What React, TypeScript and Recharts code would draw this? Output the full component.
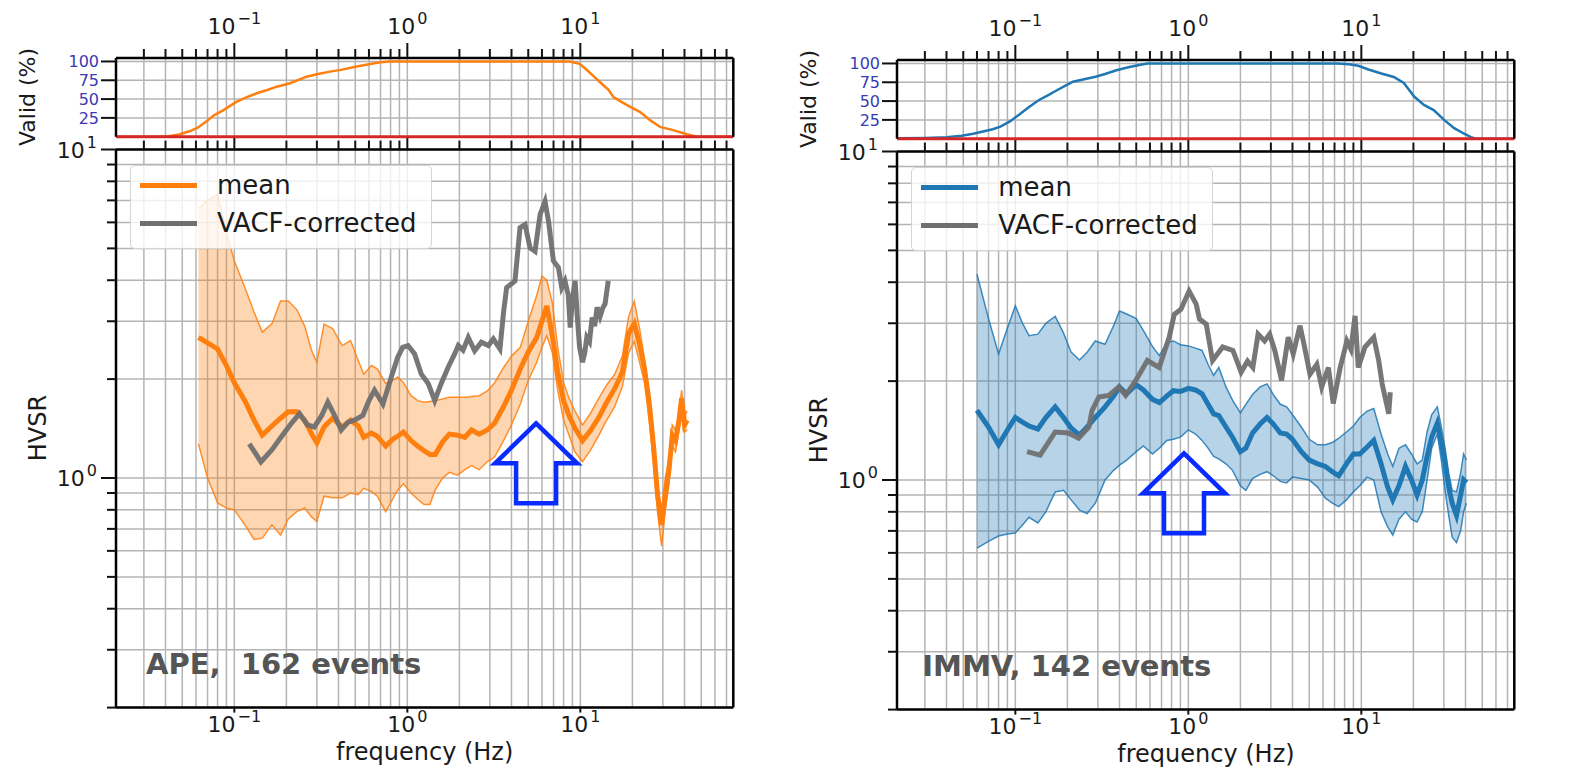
import React from 'react';
import {
  ComposedChart,
  Line,
  Area,
  XAxis,
  YAxis,
  CartesianGrid,
  ReferenceLine,
  ReferenceDot,
  Legend,
} from 'recharts';

const FONT = '"DejaVu Sans", Verdana, sans-serif';

// shared axes
const F_MIN = 0.0207;
const F_MAX = 76.6;
const freqTicks = [
  0.03, 0.04, 0.05, 0.06, 0.07, 0.08, 0.09, 0.1, 0.2, 0.3, 0.4, 0.5, 0.6, 0.7, 0.8, 0.9,
  1, 2, 3, 4, 5, 6, 7, 8, 9, 10, 20, 30, 40, 50, 60, 70,
];
const hvsrTicks = [0.2, 0.3, 0.4, 0.5, 0.6, 0.7, 0.8, 0.9, 1, 2, 3, 4, 5, 6, 7, 8, 9, 10];
const validTicks = [25, 50, 75, 100];
const VALID_MAX = 104.6;
const legendNames = ['mean', 'VACF-corrected'];

// APE station
const apeFreq = [
  0.062, 0.07, 0.08, 0.09, 0.1, 0.115, 0.13, 0.145, 0.165, 0.185, 0.205, 0.23, 0.255, 0.28, 0.3,
  0.33, 0.37, 0.42, 0.47, 0.52, 0.56, 0.62, 0.67, 0.75, 0.82, 0.88, 0.95, 1.05, 1.15, 1.25,
  1.35, 1.45, 1.6, 1.75, 1.95, 2.15, 2.35, 2.6, 2.9, 3.2, 3.6, 4.0, 4.5, 5.0, 5.6,
  6.0, 6.4, 6.9, 7.4, 8.0, 8.6, 9.3, 10.3, 11.5, 12.8, 14.2, 15.8, 17.5, 19, 20.5,
  22, 23.5, 25, 26.5, 28, 29.5, 31, 32.5, 34, 35.5, 37, 38.5, 40, 41.5,
];
const apeMean = [
  2.68, 2.58, 2.47, 2.2, 1.95, 1.72, 1.5, 1.35, 1.44, 1.52, 1.59, 1.59, 1.5, 1.36, 1.28,
  1.43, 1.52, 1.43, 1.5, 1.44, 1.33, 1.37, 1.34, 1.25, 1.31, 1.34, 1.38, 1.3, 1.25, 1.21,
  1.18, 1.18, 1.29, 1.36, 1.35, 1.33, 1.4, 1.36, 1.4, 1.47, 1.65, 1.85, 2.15, 2.42, 2.68,
  3.0, 3.34, 2.7, 2.1, 1.72, 1.55, 1.42, 1.3, 1.4, 1.53, 1.7, 1.87, 2.1, 2.75, 2.95,
  2.55, 2.15, 1.7, 1.25, 0.88, 0.72, 0.9, 1.05, 1.35, 1.3, 1.47, 1.75, 1.45, 1.5,
];
const apeHigh = [
  6.6, 7.0, 7.3, 5.6, 4.58, 3.8, 3.2, 2.78, 2.95, 3.46, 3.46, 3.25, 2.9, 2.44, 2.25,
  2.94, 2.85, 2.53, 2.62, 2.28, 2.07, 2.2, 2.15, 1.94, 1.98, 2.03, 1.95, 1.78, 1.72, 1.7,
  1.71, 1.72, 1.74, 1.76, 1.76, 1.76, 1.77, 1.78, 1.84, 1.95, 2.17, 2.35, 2.5, 3.0, 3.6,
  4.12, 4.0, 3.4, 2.5, 1.95, 1.75, 1.6, 1.45, 1.58, 1.75, 1.92, 2.07, 2.35, 3.1, 3.45,
  2.85, 2.3, 1.8, 1.35, 0.95, 0.8, 1.0, 1.15, 1.45, 1.4, 1.55, 1.85, 1.55, 1.6,
];
const apeLow = [
  1.27, 1.0, 0.84, 0.81, 0.8, 0.72, 0.65, 0.656, 0.72, 0.67, 0.75, 0.79, 0.81, 0.76, 0.737,
  0.88, 0.87, 0.87, 0.9, 0.89, 0.93, 0.91, 0.88, 0.79, 0.86, 0.92, 0.96, 0.9, 0.86, 0.83,
  0.83, 0.92, 1.0, 1.04, 1.02, 1.06, 1.09, 1.06, 1.12, 1.16, 1.3, 1.45, 1.68, 1.98, 2.25,
  2.5, 2.71, 2.4, 1.85, 1.5, 1.35, 1.2, 1.12, 1.22, 1.35, 1.5, 1.65, 1.9, 2.4, 2.6,
  2.25, 1.95, 1.5, 1.1, 0.78, 0.62, 0.8, 0.95, 1.25, 1.2, 1.38, 1.6, 1.38, 1.4,
];
const apeVacfFreq = [
  0.122, 0.1425, 0.165, 0.186, 0.21, 0.238, 0.265, 0.29, 0.32, 0.347, 0.38, 0.415, 0.455, 0.495,
  0.553, 0.6, 0.646, 0.723, 0.808, 0.88, 0.94, 1.01, 1.1, 1.205, 1.32, 1.44, 1.57, 1.72, 1.88,
  1.97, 2.1, 2.25, 2.45, 2.68, 2.94, 3.14, 3.43, 3.6, 3.75, 4.0, 4.19, 4.48, 4.79, 5.12, 5.47,
  5.85, 6.25, 6.55, 6.99, 7.47, 7.81, 8.15, 8.52, 8.74, 9.0, 9.33, 9.6, 9.9, 10.3, 10.6, 10.9,
  11.3, 11.7, 12.1, 12.5, 13.0, 13.5, 13.9, 14.5,
];
const apeVacf = [
  1.27, 1.12, 1.22, 1.33, 1.45, 1.57, 1.45, 1.43, 1.55, 1.7, 1.55, 1.4, 1.48, 1.5,
  1.55, 1.72, 1.85, 1.68, 2.03, 2.33, 2.5, 2.53, 2.39, 2.07, 1.94, 1.72, 1.94, 2.17, 2.39,
  2.53, 2.45, 2.68, 2.44, 2.59, 2.53, 2.65, 2.47, 3.2, 3.8, 3.9, 3.98, 5.78, 5.91, 5.02, 4.9,
  6.34, 6.95, 6.04, 4.58, 4.37, 3.8, 3.98, 3.6, 2.87, 3.5, 3.98, 3.1, 2.5, 2.25, 2.4, 2.68,
  2.6, 3.08, 2.9, 3.31, 3.1, 3.3, 3.39, 3.98,
];
const apeValidFreq = [
  0.0207, 0.035, 0.0414, 0.048, 0.0555, 0.0611, 0.0694, 0.0766, 0.0866, 0.099, 0.1034, 0.118,
  0.1347, 0.155, 0.176, 0.21, 0.262, 0.3, 0.357, 0.413, 0.51, 0.609, 0.7, 0.79, 8.7, 9.9, 11,
  12, 13.2, 14.6, 15.5, 16.6, 18.3, 20.2, 22.1, 25.3, 28.9, 34.4, 41.2, 46, 48, 76.6,
];
const apeValid = [
  0, 0, 0.7, 3, 7.5, 11.7, 21, 28.7, 35.4, 44, 46.5, 52.5,
  57.7, 62, 66.5, 71, 79.8, 83, 86.5, 88.8, 93.2, 96.5, 99, 100, 99.9, 96.8, 88,
  79.8, 71, 62, 53, 48.7, 43, 37.6, 33, 22, 13, 8.7, 3.3, 0.7, 0, 0,
];
const apeCountLabels = ['40', '81', '122', '162'];

// IMMV station
const immvFreq = [
  0.06, 0.07, 0.08, 0.09, 0.1, 0.11, 0.12, 0.135, 0.15, 0.17, 0.19, 0.21, 0.235, 0.26, 0.29,
  0.33, 0.37, 0.4, 0.44, 0.5, 0.55, 0.62, 0.68, 0.75, 0.82, 0.9, 1.0, 1.1, 1.2, 1.3,
  1.4, 1.5, 1.65, 1.8, 2.0, 2.15, 2.35, 2.6, 2.85, 3.1, 3.4, 3.7, 4.0, 4.5, 5.0,
  5.6, 6.2, 6.8, 7.4, 8.2, 9.0, 9.8, 10.8, 11.8, 13.0, 14.2, 15.2, 16.5, 18, 19.5,
  21, 22.5, 24, 25.5, 27.5, 29, 30.5, 32, 33.5, 35.5, 37.5, 39, 40.5,
];
const immvMean = [
  1.63, 1.45, 1.28, 1.42, 1.55, 1.5, 1.46, 1.43, 1.55, 1.67, 1.55, 1.44, 1.37, 1.45, 1.55,
  1.67, 1.8, 1.92, 1.83, 1.95, 1.88, 1.76, 1.72, 1.8, 1.87, 1.86, 1.9, 1.88, 1.83, 1.7,
  1.59, 1.57, 1.45, 1.35, 1.22, 1.25, 1.39, 1.48, 1.55, 1.48, 1.39, 1.38, 1.33, 1.22, 1.15,
  1.12, 1.1, 1.06, 1.03, 1.12, 1.2, 1.2, 1.26, 1.32, 1.12, 0.95, 0.87, 0.96, 1.1, 1.0,
  0.9, 1.0, 1.18, 1.35, 1.49, 1.3, 1.12, 0.95, 0.85, 0.78, 0.9, 1.0, 0.98,
];
const immvHigh = [
  4.23, 3.1, 2.42, 2.9, 3.39, 3.0, 2.75, 2.78, 3.0, 3.15, 2.8, 2.45, 2.32, 2.45, 2.65,
  2.59, 2.95, 3.27, 3.2, 3.1, 2.85, 2.55, 2.39, 2.62, 2.65, 2.58, 2.56, 2.52, 2.48, 2.25,
  2.08, 2.2, 1.92, 1.75, 1.6, 1.7, 1.82, 1.92, 1.96, 1.82, 1.7, 1.67, 1.58, 1.45, 1.33,
  1.28, 1.28, 1.3, 1.34, 1.4, 1.46, 1.55, 1.62, 1.65, 1.38, 1.2, 1.1, 1.25, 1.28, 1.2,
  1.12, 1.15, 1.4, 1.58, 1.67, 1.45, 1.25, 1.05, 0.93, 0.92, 1.05, 1.2, 1.15,
];
const immvLow = [
  0.62, 0.65, 0.675, 0.685, 0.69, 0.73, 0.77, 0.74, 0.8, 0.92, 0.93, 0.87, 0.81, 0.79, 0.85,
  1.0, 1.07, 1.11, 1.15, 1.22, 1.27, 1.2, 1.25, 1.32, 1.33, 1.35, 1.42, 1.38, 1.32, 1.25,
  1.18, 1.16, 1.12, 1.07, 0.96, 0.93, 1.01, 1.04, 1.06, 1.03, 0.99, 0.98, 1.02, 1.01, 1.0,
  0.95, 0.88, 0.85, 0.83, 0.87, 0.92, 0.96, 1.02, 1.0, 0.8, 0.72, 0.68, 0.76, 0.8, 0.76,
  0.745, 0.8, 1.0, 1.25, 1.38, 1.15, 0.93, 0.78, 0.67, 0.645, 0.7, 0.8, 0.85,
];
const immvVacfFreq = [
  0.117, 0.139, 0.155, 0.17, 0.203, 0.232, 0.266, 0.278, 0.304, 0.347, 0.397, 0.434, 0.497,
  0.58, 0.678, 0.775, 0.829, 0.907, 1.01, 1.11, 1.16, 1.27, 1.38, 1.58, 1.81, 2.02, 2.2, 2.36,
  2.53, 2.76, 2.95, 3.16, 3.46, 3.78, 4.04, 4.42, 4.62, 5.05, 5.53, 5.9, 6.45, 6.88, 7.55,
  8.25, 8.7, 9.2, 9.6, 10.5, 11.8, 12.6, 13.2, 14.4, 14.7,
];
const immvVacf = [
  1.22, 1.19, 1.3, 1.4, 1.39, 1.34, 1.45, 1.63, 1.79, 1.81, 1.92, 1.81, 2.01,
  2.31, 2.2, 2.72, 3.19, 3.31, 3.76, 3.43, 3.09, 2.98, 2.31, 2.54, 2.48, 2.13, 2.3, 2.2,
  2.78, 2.65, 2.78, 2.48, 2.01, 2.72, 2.42, 2.95, 2.65, 2.1, 2.25, 1.92, 2.2, 1.71, 2.2,
  2.65, 2.5, 3.16, 2.2, 2.54, 2.72, 2.31, 1.96, 1.59, 1.85,
];
const immvValidFreq = [
  0.0207, 0.03, 0.04, 0.049, 0.057, 0.065, 0.074, 0.082, 0.093, 0.105, 0.12, 0.137, 0.155,
  0.175, 0.195, 0.215, 0.25, 0.291, 0.33, 0.384, 0.45, 0.52, 0.58, 7.3, 8.5, 9.6, 11, 12.9,
  15.4, 17.6, 20.2, 23, 26.2, 30.1, 34.4, 39.3, 43, 46, 76.6,
];
const immvValid = [
  0.5, 1, 2, 4, 6.5, 9.6, 12.5, 16, 23, 31.7, 42, 51.5, 58,
  64.7, 70.5, 75.7, 79, 82.3, 86, 91, 95, 98, 100, 100, 99, 97, 92, 87,
  82, 74, 56, 45, 38, 25, 14, 6.6, 2, 0, 0,
];
const immvCountLabels = ['36', '71', '106', '142'];

// layout
const CHART_W = 790;
const PLOT_L = 116;
const PLOT_R = 733.3;
const TOP_H = 160;
const TOP_PLOT_T = 58;
const TOP_PLOT_B = 136.7;
const MAIN_TOP = 100;
const MAIN_H = 672;
const MAIN_PLOT_T = 149.5;
const MAIN_PLOT_B = 707.6;

const ORANGE = '#ff7f0e';
const BLUE = '#1f77b4';
const GRAY = '#707070';
const RED = '#d62728';
const GRID = '#b4b4b4';
const frame = { stroke: '#000', strokeWidth: 2.5 };

const isDecade = (v: number) => Math.abs(Math.log10(v) - Math.round(Math.log10(v))) < 1e-6;
const expText = (v: number) => {
  const e = Math.round(Math.log10(v));
  return e < 0 ? '\u2212' + Math.abs(e) : String(e);
};

function Pow10({ x, y, value, anchor }: any) {
  return (
    <text x={x} y={y} textAnchor={anchor} fontFamily={FONT} fontSize={22} fill="#1a1a1a">
      10
      <tspan dx={2} dy={-10} fontSize={16}>
        {expText(value)}
      </tspan>
    </text>
  );
}

const FreqTopTick = ({ x, y, payload }: any) => {
  const major = isDecade(payload.value);
  return (
    <g>
      <line x1={x} x2={x} y1={y} y2={y - (major ? 15 : 9)} stroke="#111" strokeWidth={2} />
      {major && <Pow10 x={x} y={y - 24} value={payload.value} anchor="middle" />}
    </g>
  );
};

const FreqGapTick = ({ x, y, payload }: any) => {
  const major = isDecade(payload.value);
  return <line x1={x} x2={x} y1={y} y2={y - (major ? 13 : 9)} stroke="#111" strokeWidth={2} />;
};

const FreqBottomTick = ({ x, y, payload }: any) => {
  if (!isDecade(payload.value)) return <g />;
  return (
    <g>
      <line x1={x} x2={x} y1={y} y2={y + 5} stroke="#111" strokeWidth={2} />
      <Pow10 x={x} y={y + 24} value={payload.value} anchor="middle" />
    </g>
  );
};

const HvsrTick = ({ x, y, payload }: any) => {
  const major = isDecade(payload.value);
  return (
    <g>
      <line x1={x - (major ? 15 : 9)} x2={x} y1={y} y2={y} stroke="#111" strokeWidth={2} />
      {major && <Pow10 x={x - 19} y={y + 8} value={payload.value} anchor="end" />}
    </g>
  );
};

// the percent labels sit 18.7 px apart, so they are kept small enough not to collide
const ValidTick = ({ x, y, payload }: any) => (
  <g>
    <line x1={x - 15} x2={x} y1={y} y2={y} stroke="#111" strokeWidth={2} />
    <text x={x - 17} y={y + 6} textAnchor="end" fontFamily={FONT} fontSize={16} fill="#3a3ab4">
      {payload.value}
    </text>
  </g>
);

const CountTick = ({ x, y, payload, labels }: any) => (
  <g>
    <line x1={x} x2={x + 15} y1={y} y2={y} stroke="#111" strokeWidth={2} />
    <text x={x + 17} y={y + 6} textAnchor="start" fontFamily={FONT} fontSize={16} fill="#d03535">
      {labels[validTicks.indexOf(payload.value)]}
    </text>
  </g>
);

const ArrowShape = ({ cx, cy }: any) => (
  <path
    d={`M${cx},${cy} L${cx + 41},${cy + 40} L${cx + 20},${cy + 40} L${cx + 20},${cy + 80} L${cx - 20},${cy + 80} L${cx - 20},${cy + 40} L${cx - 41},${cy + 40} Z`}
    fill="none"
    stroke="#0a2bff"
    strokeWidth={4.5}
  />
);

function LegendBox({ color }: { color: string }) {
  const rows = [
    { name: legendNames[0], color },
    { name: legendNames[1], color: GRAY },
  ];
  return (
    <div
      style={{
        position: 'relative',
        width: 302,
        height: 84,
        boxSizing: 'border-box',
        background: 'rgba(255,255,255,0.8)',
        border: '1.5px solid #d4d4d4',
        borderRadius: 5,
        fontFamily: FONT,
        fontSize: 26,
        color: '#1a1a1a',
      }}
    >
      {rows.map((r, i) => (
        <div
          key={r.name}
          style={{
            position: 'absolute',
            left: 9,
            top: (i === 0 ? 19 : 57) - 16,
            height: 32,
            display: 'flex',
            alignItems: 'center',
            whiteSpace: 'nowrap',
          }}
        >
          <div style={{ width: 57, height: 5, background: r.color }} />
          <span style={{ marginLeft: 20, lineHeight: '32px' }}>{r.name}</span>
        </div>
      ))}
    </div>
  );
}

const xAxisBase = {
  dataKey: 'f',
  type: 'number' as const,
  scale: 'log' as const,
  domain: [F_MIN, F_MAX],
  allowDataOverflow: true,
  ticks: freqTicks,
  interval: 0 as const,
  tickSize: 0,
  tickMargin: 0,
  tickLine: false,
  axisLine: frame,
};

function StationPanel({ p }: { p: any }) {
  const rows = p.freq.map((f: number, i: number) => ({ f, mean: p.mean[i], lo: p.low[i], hi: p.high[i] }));
  const vacfRows = p.vacfFreq.map((f: number, i: number) => ({ f, v: p.vacf[i] }));
  const validRows = p.validFreq.map((f: number, i: number) => ({ f, pct: p.valid[i] }));
  return (
    <>
      <div style={{ position: 'absolute', left: p.dx, top: p.dy + MAIN_TOP }}>
        <ComposedChart width={CHART_W} height={MAIN_H} data={rows} margin={{ top: 0, right: 0, bottom: 0, left: 0 }}>
          <CartesianGrid stroke={GRID} strokeWidth={1.5} />
          <XAxis {...xAxisBase} height={MAIN_H - (MAIN_PLOT_B - MAIN_TOP)} tick={<FreqBottomTick />} />
          <XAxis {...xAxisBase} xAxisId="t" orientation="top" height={MAIN_PLOT_T - MAIN_TOP} tick={<FreqGapTick />} />
          <YAxis
            type="number"
            scale="log"
            domain={[0.2, 10]}
            allowDataOverflow
            ticks={hvsrTicks}
            interval={0}
            width={PLOT_L}
            tickSize={0}
            tickMargin={0}
            tickLine={false}
            axisLine={frame}
            tick={<HvsrTick />}
          />
          <YAxis
            yAxisId="r"
            orientation="right"
            type="number"
            scale="log"
            domain={[0.2, 10]}
            allowDataOverflow
            width={CHART_W - PLOT_R}
            tick={false}
            tickLine={false}
            axisLine={frame}
          />
          <Area
            dataKey={(d: any) => [d.lo, d.hi]}
            type="linear"
            stroke={p.color}
            strokeWidth={1.5}
            strokeOpacity={0.85}
            fill={p.color}
            fillOpacity={0.32}
            isAnimationActive={false}
          />
          <Line dataKey="mean" type="linear" stroke={p.color} strokeWidth={5} dot={false} isAnimationActive={false} />
          <Line
            data={vacfRows}
            dataKey="v"
            type="linear"
            stroke={GRAY}
            strokeWidth={5}
            strokeOpacity={0.95}
            dot={false}
            isAnimationActive={false}
          />
          <ReferenceDot x={p.arrow[0]} y={p.arrow[1]} shape={ArrowShape} />
          <Legend
            layout="horizontal"
            verticalAlign="middle"
            align="center"
            content={() => <LegendBox color={p.color} />}
            wrapperStyle={{ left: 130, top: 165 - MAIN_TOP, width: 302, height: 84 }}
          />
        </ComposedChart>
      </div>
      <div style={{ position: 'absolute', left: p.dx, top: p.dy }}>
        <ComposedChart
          width={CHART_W}
          height={TOP_H}
          data={validRows}
          margin={{ top: 0, right: 0, bottom: TOP_H - TOP_PLOT_B, left: 0 }}
        >
          <CartesianGrid stroke={GRID} strokeWidth={1.5} />
          <XAxis {...xAxisBase} orientation="top" height={TOP_PLOT_T} tick={<FreqTopTick />} />
          <YAxis
            type="number"
            domain={[0, VALID_MAX]}
            ticks={validTicks}
            interval={0}
            width={PLOT_L}
            tickSize={0}
            tickMargin={0}
            tickLine={false}
            axisLine={frame}
            tick={<ValidTick />}
          />
          <YAxis
            yAxisId="r"
            orientation="right"
            type="number"
            domain={[0, VALID_MAX]}
            ticks={validTicks}
            interval={0}
            width={CHART_W - PLOT_R}
            tickSize={0}
            tickMargin={0}
            tickLine={false}
            axisLine={frame}
            tick={<CountTick labels={p.countLabels} />}
          />
          <Line dataKey="pct" type="linear" stroke={p.color} strokeWidth={2.5} dot={false} isAnimationActive={false} />
          <ReferenceLine y={0} stroke={RED} strokeWidth={3} />
        </ComposedChart>
      </div>
    </>
  );
}

const panels = [
  {
    key: 'ape',
    dx: 0,
    dy: 0,
    color: ORANGE,
    freq: apeFreq,
    mean: apeMean,
    low: apeLow,
    high: apeHigh,
    vacfFreq: apeVacfFreq,
    vacf: apeVacf,
    validFreq: apeValidFreq,
    valid: apeValid,
    countLabels: apeCountLabels,
    arrow: [5.55, 1.467],
    label: 'APE,  162 events',
    labelDx: 30,
  },
  {
    key: 'immv',
    dx: 781.3,
    dy: 2,
    color: BLUE,
    freq: immvFreq,
    mean: immvMean,
    low: immvLow,
    high: immvHigh,
    vacfFreq: immvVacfFreq,
    vacf: immvVacf,
    validFreq: immvValidFreq,
    valid: immvValid,
    countLabels: immvCountLabels,
    arrow: [0.944, 1.206],
    label: 'IMMV, 142 events',
    labelDx: 25,
  },
];

export default function App() {
  return (
    <div
      style={{
        position: 'absolute',
        left: 0,
        top: 0,
        width: 1578,
        height: 772,
        overflow: 'hidden',
        background: '#fff',
        fontFamily: FONT,
      }}
    >
      {panels.map((p) => (
        <StationPanel key={p.key} p={p} />
      ))}
      <svg width={1578} height={772} style={{ position: 'absolute', left: 0, top: 0, pointerEvents: 'none' }}>
        {panels.map((p) => (
          <g key={p.key} fontFamily={FONT} fill="#1a1a1a">
            <text
              transform={`translate(${p.dx + 27},${p.dy + 97}) rotate(-90)`}
              textAnchor="middle"
              dominantBaseline="central"
              fontSize={22}
            >
              Valid (%)
            </text>
            <text
              transform={`translate(${p.dx + 38},${p.dy + 428}) rotate(-90)`}
              textAnchor="middle"
              dominantBaseline="central"
              fontSize={24}
            >
              HVSR
            </text>
            <text x={p.dx + (PLOT_L + PLOT_R) / 2} y={p.dy + 760} textAnchor="middle" fontSize={24}>
              frequency (Hz)
            </text>
            <text
              x={p.dx + PLOT_L + p.labelDx}
              y={p.dy + 674}
              fontSize={29}
              fontWeight="bold"
              fill="#555"
              style={{ whiteSpace: 'pre' }}
            >
              {p.label}
            </text>
          </g>
        ))}
      </svg>
    </div>
  );
}
